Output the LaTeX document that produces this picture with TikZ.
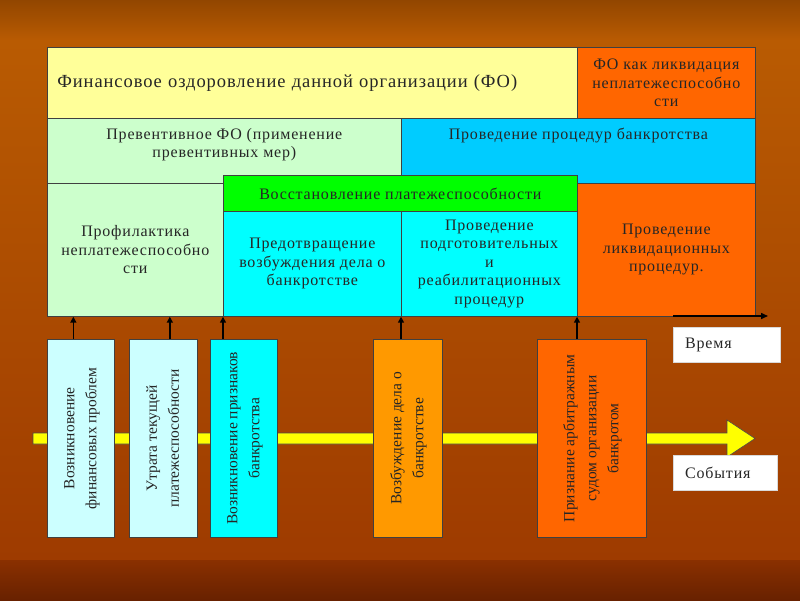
\documentclass[tikz,border=0pt]{standalone}
\usepackage{fontspec}
\setmainfont[LetterSpace=5]{Liberation Serif}
\newfontfamily\eventfont{Liberation Serif}
\usepackage{graphicx}
\usepackage{tikz}
\usetikzlibrary{arrows.meta,positioning}

\definecolor{paleyellow}{HTML}{FFFF99}
\definecolor{liqorange}{HTML}{FF6600}
\definecolor{palegreen}{HTML}{CCFFCC}
\definecolor{skyblue}{HTML}{00CCFF}
\definecolor{brightgreen}{HTML}{00FF00}
\definecolor{aqua}{HTML}{00FFFF}
\definecolor{paleaqua}{HTML}{CCFFFF}
\definecolor{amber}{HTML}{FF9900}
\definecolor{arrowyellow}{HTML}{FFFF00}
\definecolor{bgtop}{HTML}{924600}
\definecolor{bghigh}{HTML}{B95B02}
\definecolor{bglow}{HTML}{9E3B00}
\definecolor{bgfoot}{HTML}{8A3000}
\definecolor{bgbottom}{HTML}{682100}

\begin{document}
\begin{tikzpicture}[x=1pt,y=-1pt,
	box/.style={draw=black!75,line width=0.7pt,anchor=north west,inner sep=0pt,align=center,
		text=black!85,font=\fontsize{16}{18.5}\selectfont},
	evbox/.style={box,minimum height=198pt,font=\eventfont\fontsize{15.5}{22}\selectfont},
	tag/.style={anchor=north,inner sep=0pt,align=center,text=black!85,font=\fontsize{16}{18.5}\selectfont},
	up/.style={line width=1.5pt,-{Triangle[length=6pt,width=6pt]}},
	timebox/.style={anchor=north west,fill=white,draw=black!15,inner xsep=12pt,inner ysep=0pt,
		minimum height=35pt,align=left,text=black!85,font=\fontsize{16}{18.5}\selectfont}]

	% background
	\useasboundingbox (0,0) rectangle (800,600);
	\shade[top color=bghigh, bottom color=bglow] (0,40) rectangle (800,561);
	\shade[top color=bgtop, bottom color=bghigh] (0,0) rectangle (800,40.5);
	\shade[top color=bgfoot, bottom color=bgbottom] (0,560) rectangle (800,600);

	% events line
	\filldraw[fill=arrowyellow,draw=black!70,line width=0.6pt]
		(33,433) -- (727,433) -- (727,420) -- (755,438.5) -- (727,457) -- (727,444) -- (33,444) -- cycle;

	% phases
	\node[box,fill=paleyellow,minimum width=530pt,minimum height=71pt,text width=510pt,inner xsep=10pt,
		align=left,font=\fontsize{18.5}{22}\selectfont] (fo) at (47,47)
		{Финансовое оздоровление данной организации (ФО)};
	\node[box,fill=liqorange,minimum width=178pt,minimum height=71pt] (liq) at (577,47)
		{ФО как ликвидация\\неплатежеспособно\\сти};
	\node[box,fill=palegreen,minimum width=354pt,minimum height=65pt,
		label={[tag,yshift=-10pt]north:{Превентивное ФО (применение\\превентивных мер)}}] (prev) at (47,118) {};
	\node[box,fill=skyblue,minimum width=354pt,minimum height=65pt,
		label={[tag,yshift=-10pt]north:{Проведение процедур банкротства}}] (bank) at (401,118) {};
	\node[box,fill=palegreen,minimum width=176pt,minimum height=133pt] (prof) at (47,183)
		{Профилактика\\неплатежеспособно\\сти};
	\node[box,fill=liqorange,minimum width=178pt,minimum height=133pt] (liqproc) at (577,183)
		{Проведение\\ликвидационных\\процедур.};
	\node[box,fill=brightgreen,minimum width=354pt,minimum height=36pt] (restore) at (223,175)
		{Восстановление платежеспособности};
	\node[box,fill=aqua,minimum width=178pt,minimum height=105pt] (prevent) at (223,211)
		{Предотвращение\\возбуждения дела о\\банкротстве};
	\node[box,fill=aqua,minimum width=176pt,minimum height=105pt] (prep) at (401,211)
		{Проведение\\подготовительных\\и\\реабилитационных\\процедур};

	% events
	\node[evbox,fill=paleaqua,minimum width=67pt] (ev1) at (47,339)
		{\rotatebox{90}{\begin{tabular}{@{}c@{}}Возникновение\\финансовых проблем\end{tabular}}};
	\node[evbox,fill=paleaqua,minimum width=68pt] (ev2) at (129,339)
		{\rotatebox{90}{\begin{tabular}{@{}c@{}}Утрата текущей\\платежеспособности\end{tabular}}};
	\node[evbox,fill=aqua,minimum width=67pt] (ev3) at (210,339)
		{\rotatebox{90}{\begin{tabular}{@{}c@{}}Возникновение признаков\\банкротства\end{tabular}}};
	\node[evbox,fill=amber,minimum width=69pt] (ev4) at (373,339)
		{\rotatebox{90}{\begin{tabular}{@{}c@{}}Возбуждение дела о\\банкротстве\end{tabular}}};
	\node[evbox,fill=liqorange,minimum width=109pt] (ev5) at (537,339)
		{\rotatebox{90}{\begin{tabular}{@{}c@{}}Признание арбитражным\\судом организации\\банкротом\end{tabular}}};

	\node[timebox,minimum width=107pt,text width=83pt] (time) at (673,327) {Время};
	\node[timebox,minimum width=104pt,text width=80pt] (events) at (673,455) {События};

	% time axis
	\coordinate (t0) at (673,316);
	\coordinate (t1) at (768,316);
	\draw[line width=1.5pt,-{Triangle[length=7pt,width=6pt]}] (t0) -- (t1);

	\draw[up] ([xshift=-7.5pt]ev1.north) -- ([xshift=-7.5pt]ev1.north |- prof.south);
	\draw[up] ([xshift=6.5pt]ev2.north) -- ([xshift=6.5pt]ev2.north |- prof.south);
	\draw[up] (prevent.south west |- ev3.north) -- (prevent.south west);
	\draw[up] (prep.south west |- ev4.north) -- (prep.south west);
	\draw[up] (liqproc.south west |- ev5.north) -- (liqproc.south west);
\end{tikzpicture}
\end{document}
